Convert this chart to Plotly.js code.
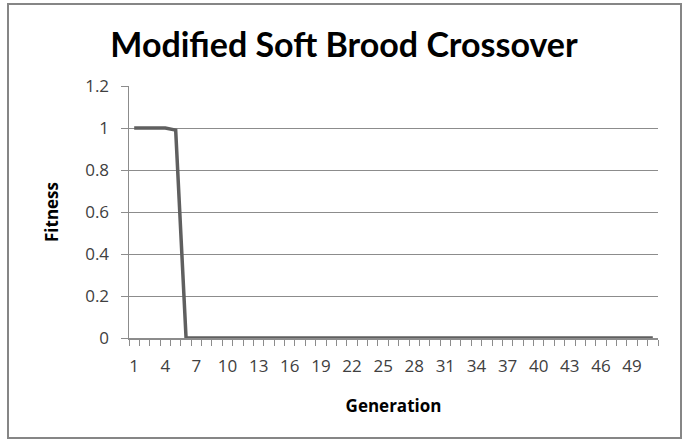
<!DOCTYPE html>
<html>
<head>
<meta charset="utf-8">
<script src="https://cdn.plot.ly/plotly-3.0.1.min.js"></script>
<style>
html,body{margin:0;padding:0;background:#fff;}
#chart{width:688px;height:443px;}
</style>
</head>
<body>
<div id="chart"></div>
<script>
const generations = [1,2,3,4,5,6,7,8,9,10,11,12,13,14,15,16,17,18,19,20,21,22,23,24,25,26,27,28,29,30,31,32,33,34,35,36,37,38,39,40,41,42,43,44,45,46,47,48,49,50,51];
const fitness = [1,1,1,1,0.99,0,0,0,0,0,0,0,0,0,0,0,0,0,0,0,0,0,0,0,0,0,0,0,0,0,0,0,0,0,0,0,0,0,0,0,0,0,0,0,0,0,0,0,0,0,0];
const xTickLabels = [1,4,7,10,13,16,19,22,25,28,31,34,37,40,43,46,49];
const yTicks = [0,0.2,0.4,0.6,0.8,1,1.2];
const yTickText = ['0','0.2','0.4','0.6','0.8','1','1.2'];

const W = 529, H = 252, L = 129, T = 86;
function px(x){return (x - L)/W;}
function py(y){return (T + H - y)/H;}

const trace = {
  x: generations, y: fitness, type: 'scatter', mode: 'lines',
  line: {color: '#5f5f5f', width: 3.5},
  hoverinfo: 'skip'
};

const layout = {
  width: 688, height: 443,
  margin: {l: 129, r: 30, t: 86, b: 105},
  paper_bgcolor: '#ffffff', plot_bgcolor: '#ffffff',
  showlegend: false,
  font: {family: '"Open Sans", sans-serif', color: '#404040'},
  title: {
    text: 'Modified Soft Brood Crossover',
    font: {family: 'Lato, "Open Sans", sans-serif', size: 34, color: '#000000', weight: 'bold'},
    x: 0.5, xref: 'container', xanchor: 'center',
    y: 1 - 45/443, yref: 'container', yanchor: 'middle'
  },
  xaxis: {
    range: [0.5, 51.5], fixedrange: true,
    tickmode: 'array', tickvals: xTickLabels, ticktext: xTickLabels.map(String),
    ticks: '', ticklabelstandoff: 12,
    tickfont: {family: '"Open Sans", sans-serif', size: 17, color: '#404040'},
    showgrid: false, zeroline: false,
    showline: true, linecolor: '#8c8c8c', linewidth: 1.5,
    minor: {tick0: 0.5, dtick: 1, ticks: 'outside', ticklen: 6, tickcolor: '#8c8c8c', tickwidth: 1, showgrid: false},
    title: {text: 'Generation', font: {family: '"Open Sans", sans-serif', size: 17, color: '#000000', weight: 'bold'}, standoff: 24}
  },
  yaxis: {
    range: [0, 1.2], fixedrange: true,
    tickmode: 'array', tickvals: yTicks, ticktext: yTickText,
    ticks: 'outside', ticklen: 7, tickcolor: '#8c8c8c', tickwidth: 1,
    ticklabelstandoff: 8,
    tickfont: {family: '"Open Sans", sans-serif', size: 17, color: '#404040'},
    showgrid: true, gridcolor: '#8c8c8c', gridwidth: 1,
    zeroline: false,
    showline: true, linecolor: '#8c8c8c', linewidth: 1.5,
    title: {text: 'Fitness', font: {family: '"Open Sans", sans-serif', size: 17, color: '#000000', weight: 'bold'}, standoff: 22}
  },
  shapes: [{
    type: 'rect', xref: 'paper', yref: 'paper', layer: 'above',
    x0: px(8), x1: px(681), y0: py(438), y1: py(4),
    line: {color: '#868686', width: 2}, fillcolor: 'rgba(0,0,0,0)'
  }]
};

Plotly.newPlot('chart', [trace], layout, {displayModeBar: false, staticPlot: true});
</script>
</body>
</html>
